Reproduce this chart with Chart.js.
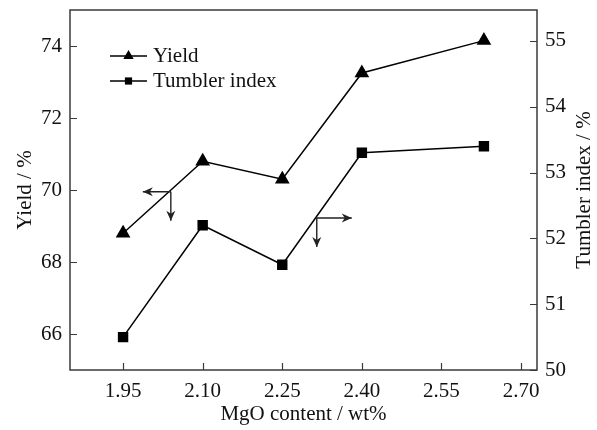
<!DOCTYPE html>
<html>
<head>
<meta charset="utf-8">
<script src="https://cdn.jsdelivr.net/npm/chart.js@4"></script>
<style>
  html, body { margin: 0; padding: 0; background: #fff; }
  #wrap { width: 597px; height: 430px; position: relative; }
</style>
</head>
<body>
<div id="wrap"><canvas id="chart"></canvas></div>
<script>
const mgoContent = [1.95, 2.10, 2.25, 2.40, 2.63];
const yieldValues = [68.8, 70.8, 70.3, 73.25, 74.15];
const tumblerValues = [50.5, 52.2, 51.6, 53.3, 53.4];

const xTicks = [1.95, 2.10, 2.25, 2.40, 2.55, 2.70];
const yieldTicks = [66, 68, 70, 72, 74];
const tumblerTicks = [50, 51, 52, 53, 54, 55];

// arrow corners: [x, y] on the axis each series belongs to
const yieldArrow = [2.04, 69.95];
const tumblerArrow = [2.315, 52.31];

const FONT = '"Liberation Serif", "Times New Roman", serif';
const AXIS = "#3a3a3a";

function toPoints(xs, ys) {
  return xs.map((x, i) => ({ x: x, y: ys[i] }));
}

function fixTicks(list) {
  return scale => { scale.ticks = list.map(v => ({ value: v })); };
}

// fixed axis band size, no extra room for overhanging labels
function fitBand(prop, size) {
  return s => {
    s[prop] = size;
    s.paddingTop = s.paddingBottom = s.paddingLeft = s.paddingRight = 0;
  };
}

function arrowHead(ctx, x, y, dx, dy) {
  // filled head pointing along (dx, dy)
  const len = 10, half = 4.5;
  const px = -dy, py = dx;
  ctx.beginPath();
  ctx.moveTo(x, y);
  ctx.lineTo(x - dx * len + px * half, y - dy * len + py * half);
  ctx.lineTo(x - dx * len * 0.7, y - dy * len * 0.7);
  ctx.lineTo(x - dx * len - px * half, y - dy * len - py * half);
  ctx.closePath();
  ctx.fill();
}

function drawArrows(ctx, cx, cy, horiz) {
  const hx = cx + horiz;
  const vy = cy + 29;
  ctx.beginPath();
  ctx.moveTo(cx, cy); ctx.lineTo(hx, cy);
  ctx.moveTo(cx, cy); ctx.lineTo(cx, vy);
  ctx.stroke();
  arrowHead(ctx, hx, cy, Math.sign(horiz), 0);
  arrowHead(ctx, cx, vy, 0, 1);
}

function marker(ctx, style, x, y, r) {
  ctx.beginPath();
  if (style === "triangle") {
    ctx.moveTo(x, y - r);
    ctx.lineTo(x + r * 0.866, y + r * 0.5);
    ctx.lineTo(x - r * 0.866, y + r * 0.5);
  } else {
    ctx.rect(x - r, y - r, 2 * r, 2 * r);
  }
  ctx.closePath();
  ctx.fill();
}

const decor = {
  id: "decor",
  afterDraw(c) {
    const ctx = c.ctx;
    const a = c.chartArea;
    const sx = c.scales.x, sl = c.scales.yL, sr = c.scales.yR;
    ctx.save();

    // frame
    ctx.strokeStyle = AXIS;
    ctx.lineWidth = 1.5;
    ctx.strokeRect(a.left, a.top, a.right - a.left, a.bottom - a.top);

    // inward ticks
    const t = 7;
    ctx.beginPath();
    xTicks.forEach(v => {
      const p = Math.round(sx.getPixelForValue(v)) + 0.5;
      ctx.moveTo(p, a.bottom); ctx.lineTo(p, a.bottom - t);
    });
    yieldTicks.forEach(v => {
      const p = Math.round(sl.getPixelForValue(v)) + 0.5;
      ctx.moveTo(a.left, p); ctx.lineTo(a.left + t, p);
    });
    tumblerTicks.forEach(v => {
      const p = Math.round(sr.getPixelForValue(v)) + 0.5;
      ctx.moveTo(a.right, p); ctx.lineTo(a.right - t, p);
    });
    ctx.lineWidth = 1.2;
    ctx.stroke();

    // axis titles
    ctx.fillStyle = "#111";
    ctx.font = "21px " + FONT;
    ctx.textAlign = "center";
    ctx.textBaseline = "middle";
    ctx.fillText("MgO content / wt%", (a.left + a.right) / 2, 414);
    const midY = (a.top + a.bottom) / 2;
    [["Yield / %", 25], ["Tumbler index / %", 584]].forEach(([txt, x]) => {
      ctx.save();
      ctx.translate(x, midY);
      ctx.rotate(-Math.PI / 2);
      ctx.fillText(txt, 0, 0);
      ctx.restore();
    });

    // legend
    ctx.strokeStyle = "#000";
    ctx.fillStyle = "#000";
    ctx.lineWidth = 1.3;
    ctx.textAlign = "left";
    [["Yield", "triangle", 56, 6], ["Tumbler index", "rect", 81, 3.6]].forEach(([txt, st, y, r]) => {
      ctx.beginPath();
      ctx.moveTo(110, y); ctx.lineTo(147, y);
      ctx.stroke();
      marker(ctx, st, 128.5, y, r);
      ctx.fillStyle = "#111";
      ctx.fillText(txt, 153, y);
      ctx.fillStyle = "#000";
    });

    // arrows pointing each curve to its axis
    ctx.strokeStyle = "#222";
    ctx.fillStyle = "#222";
    ctx.lineWidth = 1.4;
    drawArrows(ctx, sx.getPixelForValue(yieldArrow[0]), sl.getPixelForValue(yieldArrow[1]), -28);
    drawArrows(ctx, sx.getPixelForValue(tumblerArrow[0]), sr.getPixelForValue(tumblerArrow[1]), 35);

    ctx.restore();
  }
};

const tickFont = { family: FONT, size: 21 };
const noGrid = { display: false, drawTicks: false };

new Chart(document.getElementById("chart"), {
  type: "line",
  data: {
    datasets: [
      {
        label: "Yield",
        data: toPoints(mgoContent, yieldValues),
        yAxisID: "yL",
        borderColor: "#000",
        backgroundColor: "#000",
        borderWidth: 1.5,
        pointStyle: "triangle",
        pointRadius: 7,
        tension: 0
      },
      {
        label: "Tumbler index",
        data: toPoints(mgoContent, tumblerValues),
        yAxisID: "yR",
        borderColor: "#000",
        backgroundColor: "#000",
        borderWidth: 1.5,
        pointStyle: "rect",
        pointRadius: 6.3,
        tension: 0
      }
    ]
  },
  options: {
    responsive: true,
    maintainAspectRatio: false,
    animation: false,
    layout: { padding: { top: 10, left: 0, right: 0, bottom: 0 } },
    plugins: { legend: { display: false }, tooltip: { enabled: false } },
    scales: {
      x: {
        type: "linear",
        min: 1.85,
        max: 2.73,
        afterBuildTicks: fixTicks(xTicks),
        afterFit: fitBand("height", 60),
        grid: noGrid,
        border: { display: false },
        ticks: {
          font: tickFont, color: "#111", padding: 9, maxRotation: 0,
          callback: v => v.toFixed(2)
        }
      },
      yL: {
        type: "linear",
        position: "left",
        min: 65,
        max: 75,
        afterBuildTicks: fixTicks(yieldTicks),
        afterFit: fitBand("width", 70),
        grid: noGrid,
        border: { display: false },
        ticks: { font: tickFont, color: "#111", padding: 8 }
      },
      yR: {
        type: "linear",
        position: "right",
        min: 50,
        max: 55.47,
        afterBuildTicks: fixTicks(tumblerTicks),
        afterFit: fitBand("width", 60),
        grid: noGrid,
        border: { display: false },
        ticks: { font: tickFont, color: "#111", padding: 8 }
      }
    }
  },
  plugins: [decor]
});
</script>
</body>
</html>
